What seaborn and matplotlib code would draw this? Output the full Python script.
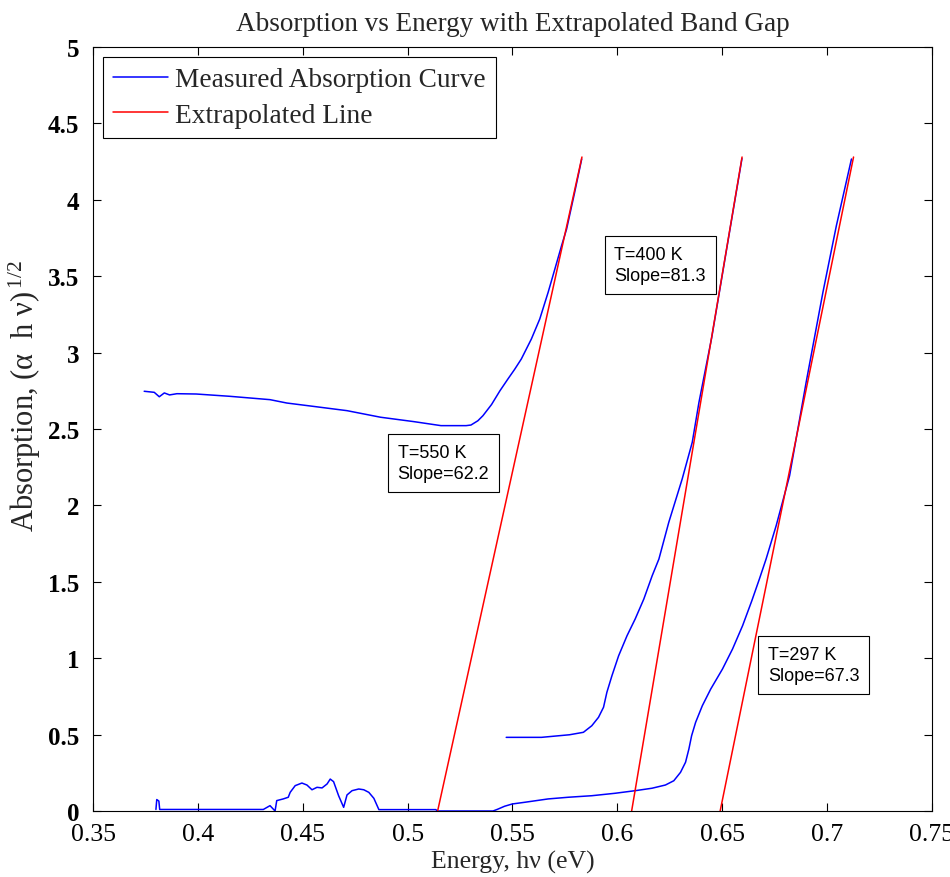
import numpy as np
import pandas as pd
import matplotlib
matplotlib.use('Agg')
import matplotlib.pyplot as plt
import seaborn as sns

# ---- Measured absorption curves (energy eV, (alpha h nu)^1/2) ----
e550 = [0.3744, 0.3792, 0.3816, 0.3840, 0.3865, 0.3900, 0.3992, 0.4152, 0.4344, 0.4424,
        0.4551, 0.4711, 0.4871, 0.5031, 0.5159, 0.5279, 0.5302, 0.5335, 0.5359, 0.5400,
        0.5440, 0.5478, 0.5510, 0.5542, 0.5590, 0.5630, 0.5670, 0.5702, 0.5734, 0.5758,
        0.5795, 0.5830]
a550 = [2.747, 2.740, 2.711, 2.736, 2.723, 2.731, 2.729, 2.714, 2.692, 2.670,
        2.648, 2.620, 2.577, 2.548, 2.522, 2.522, 2.526, 2.554, 2.587, 2.660,
        2.750, 2.827, 2.890, 2.958, 3.089, 3.220, 3.395, 3.547, 3.700, 3.809,
        4.040, 4.267]

e400 = [0.5470, 0.5638, 0.5772, 0.5838, 0.5878, 0.5910, 0.5934, 0.5950, 0.5974, 0.6006,
        0.6046, 0.6085, 0.6126, 0.6166, 0.6198, 0.6245, 0.6309, 0.6357, 0.6389, 0.6450,
        0.6520, 0.6594]
a400 = [0.482, 0.482, 0.499, 0.515, 0.558, 0.613, 0.679, 0.777, 0.885, 1.016,
        1.147, 1.257, 1.387, 1.540, 1.649, 1.889, 2.173, 2.413, 2.675, 3.100,
        3.670, 4.270]

e297 = [0.3800, 0.3804, 0.3814, 0.3818, 0.4312, 0.4344, 0.4368, 0.4376, 0.4407, 0.4431,
        0.4440, 0.4464, 0.4496, 0.4520, 0.4544, 0.4568, 0.4592, 0.4616, 0.4631, 0.4647,
        0.4671, 0.4695, 0.4711, 0.4735, 0.4767, 0.4791, 0.4815, 0.4839, 0.4863, 0.5135,
        0.5140, 0.5407, 0.5430, 0.5462, 0.5499, 0.5558, 0.5670, 0.5766, 0.5878, 0.5989,
        0.6085, 0.6165, 0.6229, 0.6269, 0.6301, 0.6325, 0.6341, 0.6354, 0.6373, 0.6405,
        0.6445, 0.6501, 0.6549, 0.6597, 0.6641, 0.6677, 0.6709, 0.6757, 0.6821, 0.6900,
        0.6980, 0.7044, 0.7116]
a297 = [0.010, 0.075, 0.065, 0.010, 0.010, 0.035, 0.000, 0.068, 0.079, 0.090,
        0.122, 0.166, 0.183, 0.170, 0.139, 0.155, 0.151, 0.177, 0.209, 0.192,
        0.100, 0.024, 0.105, 0.133, 0.144, 0.139, 0.122, 0.083, 0.009, 0.009,
        0.000, 0.000, 0.012, 0.031, 0.046, 0.057, 0.079, 0.090, 0.100, 0.116,
        0.133, 0.149, 0.170, 0.198, 0.253, 0.319, 0.406, 0.493, 0.580, 0.689,
        0.798, 0.929, 1.060, 1.213, 1.376, 1.518, 1.649, 1.867, 2.194, 2.806,
        3.395, 3.830, 4.267]

# ---- Extrapolated lines ----
temps = [550, 400, 297]
intercepts = [0.5143, 0.6068, 0.6490]     # x where line hits zero (band gap)
slopes = [62.2, 81.3, 67.3]
line_top = 4.28

# annotation anchor positions (data coords)
ann_x = [0.4952, 0.5986, 0.6717]
ann_y = [2.402, 3.698, 1.080]

KIND_M = 'Measured Absorption Curve'
KIND_L = 'Extrapolated Line'

rows = []
for name, ex, ay in [('c550', e550, a550), ('c400', e400, a400), ('c297', e297, a297)]:
    for x, y in zip(ex, ay):
        rows.append((name, KIND_M, x, y))
for t, x0, s in zip(temps, intercepts, slopes):
    rows.append((f'l{t}', KIND_L, x0, 0.0))
    rows.append((f'l{t}', KIND_L, x0 + line_top / s, line_top))
df = pd.DataFrame(rows, columns=['series', 'kind', 'energy', 'absorption'])

sns.set_theme(style='ticks')
plt.rcParams['font.family'] = ['Liberation Serif', 'DejaVu Serif']
plt.rcParams['mathtext.fontset'] = 'custom'
plt.rcParams['mathtext.rm'] = 'Liberation Serif'
plt.rcParams['mathtext.it'] = 'Liberation Serif:italic'

fig = plt.figure(figsize=(9.5, 8.78), dpi=100)
ax = fig.add_axes([93 / 950, 66 / 878, 839 / 950, 764 / 878])

sns.lineplot(data=df, x='energy', y='absorption', hue='kind', units='series',
             estimator=None, sort=False, palette={KIND_M: '#0000ff', KIND_L: '#ff0000'},
             hue_order=[KIND_M, KIND_L], linewidth=1.1, ax=ax, legend=True)

ax.set_xlim(0.35, 0.75)
ax.set_ylim(0, 5)
xt = np.arange(0.35, 0.7501, 0.05)
yt = np.arange(0, 5.001, 0.5)
ax.set_xticks(xt)
ax.set_xticklabels([f'{v:g}' for v in np.round(xt, 2)])
ax.set_yticks(yt)
ax.set_yticklabels([f'{v:g}' for v in yt], fontweight='bold')
ax.tick_params(direction='in', top=True, right=True, length=6, width=0.8,
               color='black', labelcolor='black')
ax.tick_params(axis='x', labelsize=18.5, pad=8.5)
ax.tick_params(axis='y', labelsize=18, pad=10)
for sp in ax.spines.values():
    sp.set_visible(True)
    sp.set_color('black')
    sp.set_linewidth(0.8)

ax.set_title('Absorption vs Energy with Extrapolated Band Gap', fontsize=19.5, pad=12)
ax.set_xlabel('Energy, hν (eV)', fontsize=18.5, labelpad=4)
ax.set_ylabel('Absorption, (α  h ν)$^{\\,1/2}$', fontsize=22)
ax.yaxis.set_label_coords(-0.059, 0.545)

handles, labels = ax.get_legend_handles_labels()
leg = ax.legend(handles, labels, loc='upper left', fontsize=19.7, frameon=True,
                fancybox=False, framealpha=1, edgecolor='black', borderpad=0.38,
                labelspacing=0.38, handlelength=2.0, handletextpad=0.25,
                borderaxespad=0.35)
leg.get_frame().set_linewidth(0.8)

for t, s, x, y in zip(temps, slopes, ann_x, ann_y):
    ax.text(x, y, f'T={t} K\nSlope={s}', fontsize=13, family='Liberation Sans',
            ha='left', va='top', color='black', linespacing=1.3,
            bbox=dict(boxstyle='square,pad=0.55', fc='white', ec='black', lw=0.8))

fig.savefig('out.png', dpi=100)
